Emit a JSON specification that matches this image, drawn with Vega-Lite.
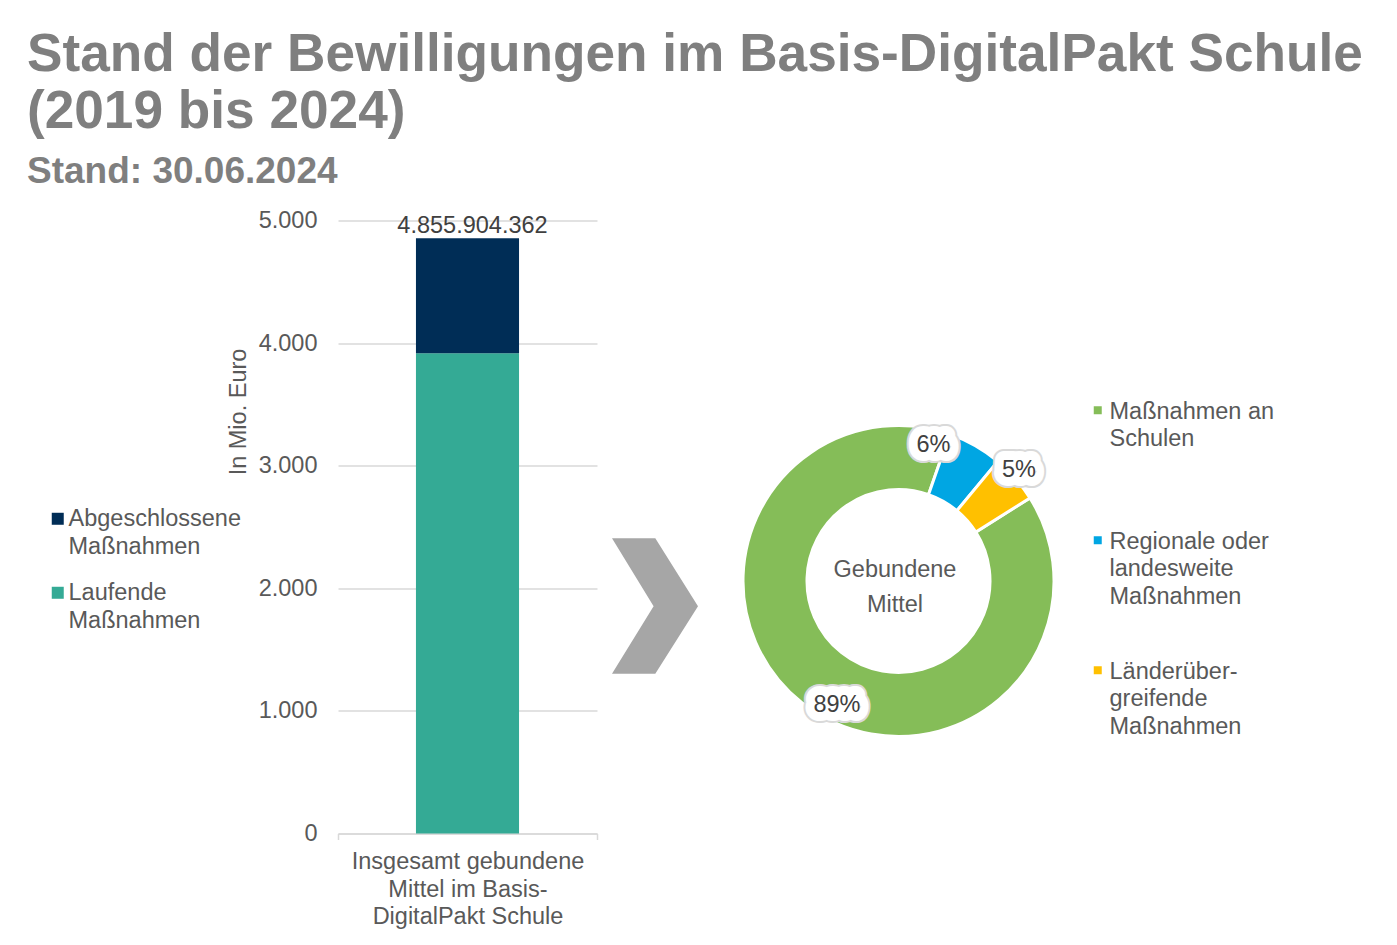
{
  "$schema": "https://vega.github.io/schema/vega-lite/v6.json",
  "background": "white",
  "padding": {"left": 27, "top": 27.5, "right": 5, "bottom": 0},
  "title": {
    "text": ["Stand der Bewilligungen im Basis-DigitalPakt Schule", "(2019 bis 2024)"],
    "subtitle": "Stand: 30.06.2024",
    "anchor": "start",
    "frame": "bounds",
    "dx": -19,
    "font": "Liberation Sans",
    "fontSize": 53.2,
    "fontWeight": "bold",
    "color": "#7F7F7F",
    "lineHeight": 56.6,
    "subtitleFont": "Liberation Sans",
    "subtitleFontSize": 37,
    "subtitleFontWeight": "bold",
    "subtitleColor": "#7F7F7F",
    "subtitlePadding": 15,
    "offset": 17.5
  },
  "datasets": {
    "balken": [
      {"kategorie": "Insgesamt gebundene Mittel im Basis-DigitalPakt Schule", "status": "Laufende Maßnahmen", "wert": 3918},
      {"kategorie": "Insgesamt gebundene Mittel im Basis-DigitalPakt Schule", "status": "Abgeschlossene Maßnahmen", "wert": 937.9}
    ],
    "summe": [
      {"kategorie": "Insgesamt gebundene Mittel im Basis-DigitalPakt Schule", "summe_mio": 4855.904362, "summe_euro": 4855904362}
    ],
    "anteile": [
      {"kategorie": "Maßnahmen an Schulen", "anteil": 0.893},
      {"kategorie": "Regionale oder landesweite Maßnahmen", "anteil": 0.057},
      {"kategorie": "Länderübergreifende Maßnahmen", "anteil": 0.05}
    ],
    "mitte": [
      {"beschriftung": "Gebundene Mittel"}
    ],
    "pfeil": [
      {"element": "Pfeil"}
    ]
  },
  "bounds": "flush",
  "spacing": 10,
  "resolve": {"scale": {"color": "independent"}, "legend": {"color": "independent"}},
  "hconcat": [
    {
      "width": 259,
      "height": 613,
      "encoding": {
        "x": {
          "field": "kategorie",
          "type": "nominal",
          "scale": {"paddingInner": 0, "paddingOuter": 0},
          "axis": {
            "title": null,
            "labelAngle": 0,
            "labelExpr": "datum.value == 'Insgesamt gebundene Mittel im Basis-DigitalPakt Schule' ? ['Insgesamt gebundene', 'Mittel im Basis-', 'DigitalPakt Schule'] : ''",
            "labelFont": "Liberation Sans",
            "labelFontSize": 23.5,
            "labelColor": "#595959",
            "labelLineHeight": 27.5,
            "labelPadding": 10,
            "labelBaseline": "top",
            "labelLimit": 400,
            "domainColor": "#D9D9D9",
            "domainWidth": 1.5,
            "tickBand": "extent",
            "tickColor": "#D9D9D9",
            "tickWidth": 1.5,
            "tickSize": 6,
            "grid": false
          }
        }
      },
      "layer": [
        {
          "data": {"name": "balken"},
          "mark": {"type": "bar", "width": {"band": 0.398}},
          "encoding": {
            "y": {
              "field": "wert",
              "type": "quantitative",
              "stack": "zero",
              "scale": {"domain": [0, 5000]},
              "axis": {
                "title": "In Mio. Euro",
                "values": [0, 1000, 2000, 3000, 4000, 5000],
                "format": ",d",
                "labelFont": "Liberation Sans",
                "labelFontSize": 23.5,
                "labelColor": "#595959",
                "labelPadding": 21,
                "ticks": false,
                "domain": false,
                "gridColor": "#D9D9D9",
                "gridWidth": 1.5,
                "titleFont": "Liberation Sans",
                "titleFontSize": 23.5,
                "titleFontWeight": "normal",
                "titleColor": "#595959",
                "titleX": -100,
                "titleY": 191,
                "titleAngle": 270,
                "titleAlign": "center",
                "titleBaseline": "middle"
              }
            },
            "color": {
              "field": "status",
              "type": "nominal",
              "scale": {"domain": ["Abgeschlossene Maßnahmen", "Laufende Maßnahmen"], "range": ["#002D56", "#34AA95"]},
              "legend": {
                "title": null,
                "orient": "none",
                "legendX": -292,
                "legendY": 275,
                "direction": "vertical",
                "padding": 0,
                "labelExpr": "split(datum.label, ' ')",
                "labelFont": "Liberation Sans",
                "labelFontSize": 23.5,
                "labelColor": "#595959",
                "labelBaseline": "top",
                "labelOffset": -1,
                "labelLimit": 300,
                "symbolType": "M-1,0.92H1V2.92H-1Z",
                "symbolSize": 144,
                "symbolStrokeWidth": 0,
                "rowPadding": 11
              }
            },
            "order": {"field": "status", "type": "ordinal", "sort": "descending"}
          }
        },
        {
          "data": {"name": "summe"},
          "mark": {"type": "text", "baseline": "bottom", "dx": 5, "font": "Liberation Sans", "fontSize": 23.5, "color": "#404040"},
          "encoding": {
            "y": {"field": "summe_mio", "type": "quantitative"},
            "text": {"field": "summe_euro", "type": "quantitative", "format": ",d"}
          }
        }
      ]
    },
    {
      "width": 96,
      "height": 721,
      "data": {"name": "pfeil"},
      "mark": {"type": "point", "shape": "M-43,-42.8L0.3,-42.8L43,25.2L0.3,92.8L-43,92.8L-1.4,25.2Z", "size": 4, "filled": true, "fill": "#A6A6A6", "strokeWidth": 0, "opacity": 1},
      "encoding": {}
    },
    {
      "width": 371,
      "height": 721,
      "layer": [
        {
          "data": {"name": "anteile"},
          "mark": {"type": "arc", "outerRadius": 155.5, "innerRadius": 91.5, "stroke": "white", "strokeWidth": 3},
          "encoding": {
            "theta": {"field": "anteil", "type": "quantitative", "stack": true, "scale": {"range": [0.6929, 6.9761]}},
            "order": {"field": "kategorie", "type": "ordinal", "sort": "ascending"},
            "color": {
              "field": "kategorie",
              "type": "nominal",
              "scale": {"domain": ["Maßnahmen an Schulen", "Regionale oder landesweite Maßnahmen", "Länderübergreifende Maßnahmen"], "range": ["#85BD58", "#00A6E3", "#FFC000"]},
              "legend": {
                "title": null,
                "orient": "none",
                "legendX": 373,
                "legendY": 167.6,
                "direction": "vertical",
                "padding": 0,
                "gridAlign": "all",
                "labelExpr": "datum.label == 'Maßnahmen an Schulen' ? ['Maßnahmen an', 'Schulen'] : datum.label == 'Regionale oder landesweite Maßnahmen' ? ['Regionale oder', 'landesweite', 'Maßnahmen'] : ['Länderüber-', 'greifende', 'Maßnahmen']",
                "labelFont": "Liberation Sans",
                "labelFontSize": 23.5,
                "labelColor": "#595959",
                "labelBaseline": "top",
                "labelOffset": 0,
                "labelLimit": 300,
                "symbolType": "M-1,1.6H1V3.6H-1Z",
                "symbolSize": 64,
                "symbolStrokeWidth": 0,
                "rowPadding": 39
              }
            }
          }
        },
        {
          "data": {"name": "anteile"},
          "mark": {
            "type": "text", "radius": 141, "font": "Liberation Sans", "fontSize": 23.5, "align": "center", "baseline": "middle",
            "fill": "#D9D9D9", "stroke": "#D9D9D9", "strokeWidth": 22, "strokeJoin": "round",
            "dx": {"expr": "datum.kategorie == 'Maßnahmen an Schulen' ? 26.1 : datum.kategorie == 'Regionale oder landesweite Maßnahmen' ? -34.4 : 14.5"},
            "dy": {"expr": "datum.kategorie == 'Maßnahmen an Schulen' ? 14 : datum.kategorie == 'Regionale oder landesweite Maßnahmen' ? -12.8 : -18"}
          },
          "encoding": {
            "theta": {"field": "anteil", "type": "quantitative", "stack": true},
            "order": {"field": "kategorie", "type": "ordinal", "sort": "ascending"},
            "detail": {"field": "kategorie", "type": "nominal"},
            "text": {"field": "anteil", "type": "quantitative", "format": ".0%"}
          }
        },
        {
          "data": {"name": "anteile"},
          "mark": {
            "type": "text", "radius": 141, "font": "Liberation Sans", "fontSize": 23.5, "align": "center", "baseline": "middle",
            "fill": "white", "stroke": "white", "strokeWidth": 18, "strokeJoin": "round",
            "dx": {"expr": "datum.kategorie == 'Maßnahmen an Schulen' ? 26.1 : datum.kategorie == 'Regionale oder landesweite Maßnahmen' ? -34.4 : 14.5"},
            "dy": {"expr": "datum.kategorie == 'Maßnahmen an Schulen' ? 14 : datum.kategorie == 'Regionale oder landesweite Maßnahmen' ? -12.8 : -18"}
          },
          "encoding": {
            "theta": {"field": "anteil", "type": "quantitative", "stack": true},
            "order": {"field": "kategorie", "type": "ordinal", "sort": "ascending"},
            "detail": {"field": "kategorie", "type": "nominal"},
            "text": {"field": "anteil", "type": "quantitative", "format": ".0%"}
          }
        },
        {
          "data": {"name": "anteile"},
          "mark": {
            "type": "text", "radius": 141, "font": "Liberation Sans", "fontSize": 23.5, "align": "center", "baseline": "middle",
            "fill": "#404040",
            "dx": {"expr": "datum.kategorie == 'Maßnahmen an Schulen' ? 26.1 : datum.kategorie == 'Regionale oder landesweite Maßnahmen' ? -34.4 : 14.5"},
            "dy": {"expr": "datum.kategorie == 'Maßnahmen an Schulen' ? 14 : datum.kategorie == 'Regionale oder landesweite Maßnahmen' ? -12.8 : -18"}
          },
          "encoding": {
            "theta": {"field": "anteil", "type": "quantitative", "stack": true},
            "order": {"field": "kategorie", "type": "ordinal", "sort": "ascending"},
            "detail": {"field": "kategorie", "type": "nominal"},
            "text": {"field": "anteil", "type": "quantitative", "format": ".0%"}
          }
        },
        {
          "data": {"name": "mitte"},
          "mark": {"type": "text", "text": ["Gebundene", "Mittel"], "font": "Liberation Sans", "fontSize": 23.5, "color": "#595959", "align": "center", "baseline": "middle", "lineHeight": 34.7, "dx": -3.5, "dy": -11},
          "encoding": {}
        }
      ]
    }
  ],
  "config": {
    "view": {"stroke": null},
    "font": "Liberation Sans",
    "locale": {"number": {"decimal": ",", "thousands": ".", "grouping": [3], "currency": ["", " €"]}},
    "style": {"guide-label": {"lineHeight": 27.5}}
  }
}
